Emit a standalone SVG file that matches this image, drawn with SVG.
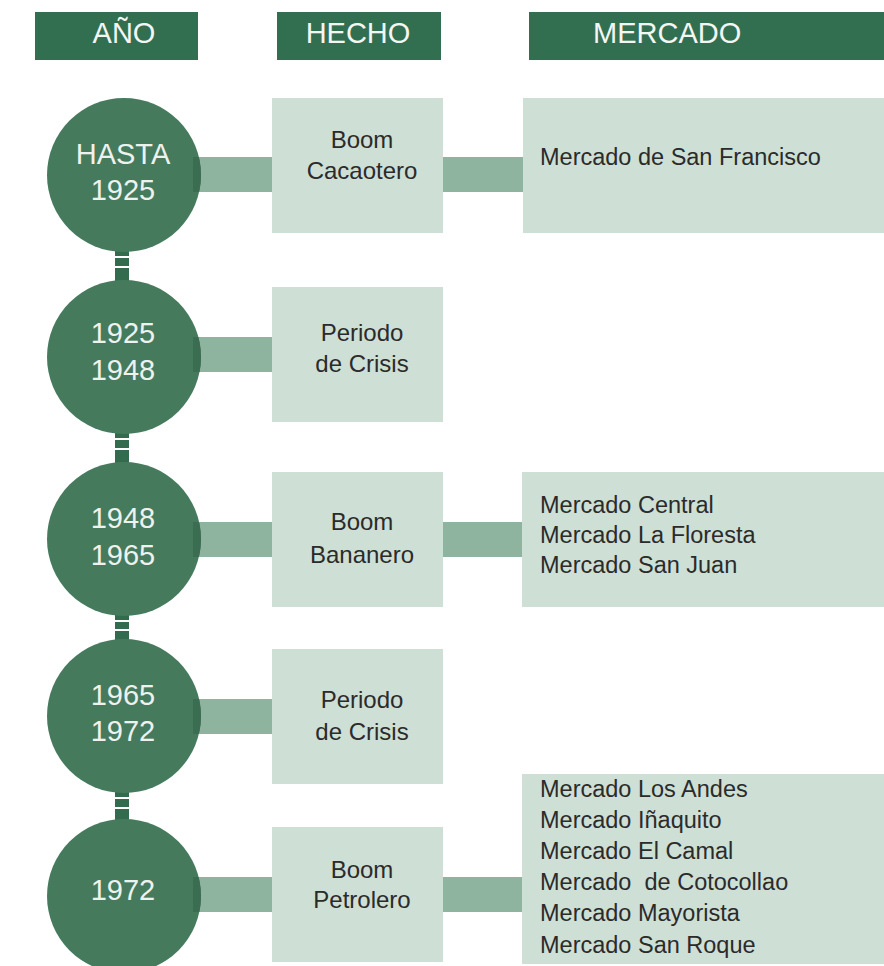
<svg xmlns="http://www.w3.org/2000/svg" width="884" height="966" viewBox="0 0 884 966">
<style>
.hdr{fill:#326f51}
.hdrt{fill:#f4f6f4;font-family:"Liberation Sans",Arial,sans-serif;font-size:29px}
.yr{fill:#467a5d}
.yrt{fill:#eef2ef;font-family:"Liberation Sans",Arial,sans-serif;font-size:29px;text-anchor:middle}
.box{fill:#cedfd5}
.bar{fill:#8eb39e}
.ov{fill:#3b6d52}
.bt{fill:#2b2b2b;font-family:"Liberation Sans",Arial,sans-serif;font-size:24px;text-anchor:middle}
.mt{fill:#2b2b2b;font-family:"Liberation Sans",Arial,sans-serif;font-size:23.5px}
.lnk{fill:#336b4f}
.gap{fill:#ffffff}
</style>
<defs>
<clipPath id="c1"><circle cx="124" cy="175" r="77"/></clipPath>
<clipPath id="c2"><circle cx="124" cy="357" r="77"/></clipPath>
<clipPath id="c3"><circle cx="124" cy="539" r="77"/></clipPath>
<clipPath id="c4"><circle cx="124" cy="716" r="77"/></clipPath>
<clipPath id="c5"><circle cx="124" cy="896" r="77"/></clipPath>
</defs>

<g id="headers">
<g id="h-anio"><rect class="hdr" x="35" y="12" width="163" height="48"/><text class="hdrt" x="124" y="43" text-anchor="middle">AÑO</text></g>
<g id="h-hecho"><rect class="hdr" x="277" y="12" width="164" height="48"/><text class="hdrt" x="358" y="43" text-anchor="middle">HECHO</text></g>
<g id="h-mercado"><rect class="hdr" x="529" y="12" width="355" height="48"/><text class="hdrt" x="593" y="43">MERCADO</text></g>
</g>

<g id="connectors">
<rect class="bar" x="194" y="157" width="78" height="35"/>
<rect class="bar" x="443" y="157" width="80" height="35"/>
<rect class="bar" x="194" y="337" width="78" height="35"/>
<rect class="bar" x="194" y="522" width="78" height="35"/>
<rect class="bar" x="443" y="522" width="80" height="35"/>
<rect class="bar" x="194" y="699" width="78" height="35"/>
<rect class="bar" x="194" y="877" width="78" height="35"/>
<rect class="bar" x="443" y="877" width="80" height="35"/>
<g id="links">
<rect class="lnk" x="115" y="248" width="14" height="38"/><rect class="gap" x="113" y="256" width="18" height="2"/><rect class="gap" x="113" y="266" width="18" height="2"/>
<rect class="lnk" x="115" y="430" width="14" height="36"/><rect class="gap" x="113" y="438" width="18" height="2"/><rect class="gap" x="113" y="448" width="18" height="2"/>
<rect class="lnk" x="115" y="612" width="14" height="31"/><rect class="gap" x="113" y="620" width="18" height="2"/><rect class="gap" x="113" y="629" width="18" height="2"/>
<rect class="lnk" x="115" y="789" width="14" height="33"/><rect class="gap" x="113" y="797" width="18" height="2"/><rect class="gap" x="113" y="807" width="18" height="2"/>
</g>
</g>

<g id="row1">
<circle class="yr" cx="124" cy="175" r="77"/>
<rect class="ov" x="193" y="157" width="10" height="35" clip-path="url(#c1)"/>
<text class="yrt" x="123" y="164">HASTA</text><text class="yrt" x="123" y="200">1925</text>
</g>
<g id="hecho1"><rect class="box" x="272" y="98" width="171" height="135"/><text class="bt" x="362" y="148">Boom</text><text class="bt" x="362" y="179">Cacaotero</text></g>
<g id="mercado1"><rect class="box" x="523" y="98" width="361" height="135"/><text class="mt" x="540" y="165">Mercado de San Francisco</text></g>

<g id="row2">
<circle class="yr" cx="124" cy="357" r="77"/>
<rect class="ov" x="193" y="337" width="10" height="35" clip-path="url(#c2)"/>
<text class="yrt" x="123" y="343">1925</text><text class="yrt" x="123" y="380">1948</text>
</g>
<g id="hecho2"><rect class="box" x="272" y="287" width="171" height="135"/><text class="bt" x="362" y="341">Periodo</text><text class="bt" x="362" y="372">de Crisis</text></g>

<g id="row3">
<circle class="yr" cx="124" cy="539" r="77"/>
<rect class="ov" x="193" y="522" width="10" height="35" clip-path="url(#c3)"/>
<text class="yrt" x="123" y="528">1948</text><text class="yrt" x="123" y="565">1965</text>
</g>
<g id="hecho3"><rect class="box" x="272" y="472" width="171" height="135"/><text class="bt" x="362" y="530">Boom</text><text class="bt" x="362" y="563">Bananero</text></g>
<g id="mercado3"><rect class="box" x="522" y="472" width="362" height="135"/>
<text class="mt" x="540" y="513">Mercado Central</text><text class="mt" x="540" y="543">Mercado La Floresta</text><text class="mt" x="540" y="573">Mercado San Juan</text></g>

<g id="row4">
<circle class="yr" cx="124" cy="716" r="77"/>
<rect class="ov" x="193" y="699" width="10" height="35" clip-path="url(#c4)"/>
<text class="yrt" x="123" y="705">1965</text><text class="yrt" x="123" y="741">1972</text>
</g>
<g id="hecho4"><rect class="box" x="272" y="649" width="171" height="135"/><text class="bt" x="362" y="708">Periodo</text><text class="bt" x="362" y="740">de Crisis</text></g>

<g id="row5">
<circle class="yr" cx="124" cy="896" r="77"/>
<rect class="ov" x="193" y="877" width="10" height="35" clip-path="url(#c5)"/>
<text class="yrt" x="123" y="900">1972</text>
</g>
<g id="hecho5"><rect class="box" x="272" y="827" width="171" height="135"/><text class="bt" x="362" y="878">Boom</text><text class="bt" x="362" y="908">Petrolero</text></g>
<g id="mercado5"><rect class="box" x="522" y="774" width="362" height="190"/>
<text class="mt" x="540" y="797">Mercado Los Andes</text>
<text class="mt" x="540" y="828">Mercado Iñaquito</text>
<text class="mt" x="540" y="859">Mercado El Camal</text>
<text class="mt" x="540" y="890" xml:space="preserve">Mercado  de Cotocollao</text>
<text class="mt" x="540" y="921">Mercado Mayorista</text>
<text class="mt" x="540" y="953">Mercado San Roque</text>
</g>
</svg>
